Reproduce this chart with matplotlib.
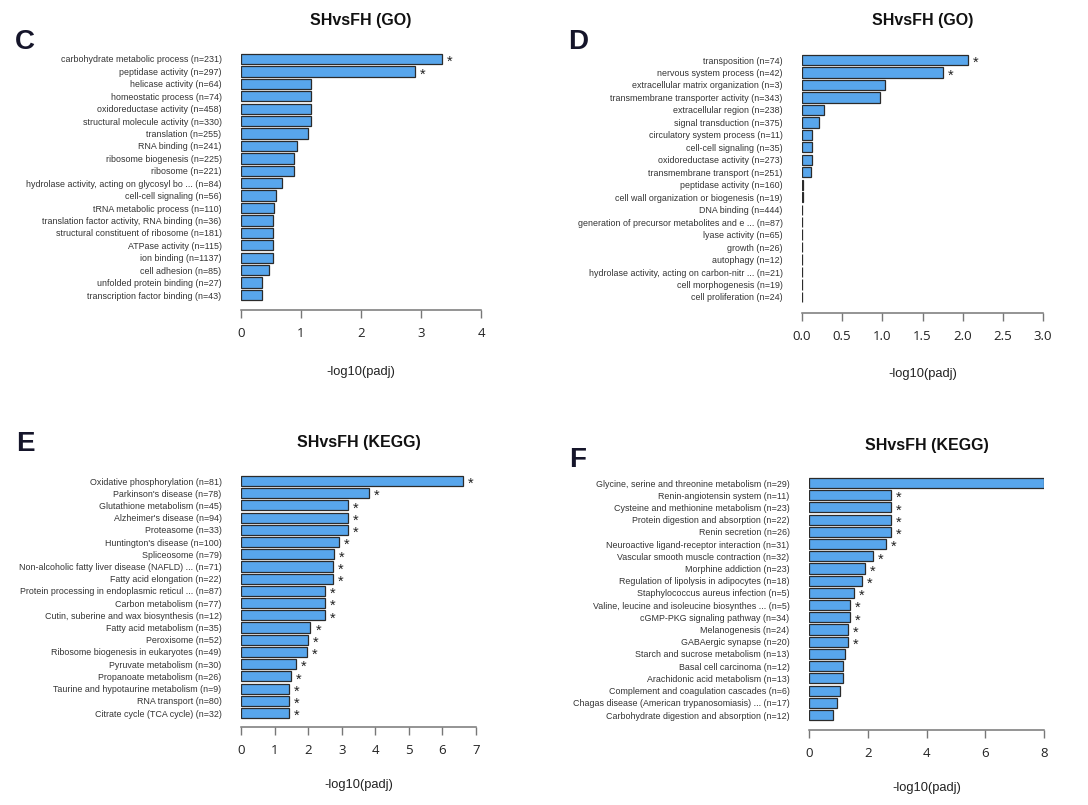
import matplotlib
matplotlib.use('Agg')
import matplotlib.pyplot as plt

plt.rcParams['font.family'] = ['Liberation Sans', 'DejaVu Sans']

# ---------------------------------------------------------------------------
# data (top to bottom)
go1_terms = ['carbohydrate metabolic process (n=231)', 'peptidase activity (n=297)',
             'helicase activity (n=64)', 'homeostatic process (n=74)',
             'oxidoreductase activity (n=458)', 'structural molecule activity (n=330)',
             'translation (n=255)', 'RNA binding (n=241)', 'ribosome biogenesis (n=225)',
             'ribosome (n=221)', 'hydrolase activity, acting on glycosyl bo ... (n=84)',
             'cell-cell signaling (n=56)', 'tRNA metabolic process (n=110)',
             'translation factor activity, RNA binding (n=36)',
             'structural constituent of ribosome (n=181)', 'ATPase activity (n=115)',
             'ion binding (n=1137)', 'cell adhesion (n=85)',
             'unfolded protein binding (n=27)', 'transcription factor binding (n=43)']
go1_vals = [3.35, 2.9, 1.16, 1.16, 1.16, 1.16, 1.12, 0.94, 0.89, 0.88,
            0.69, 0.58, 0.55, 0.54, 0.54, 0.54, 0.53, 0.47, 0.35, 0.35]
go1_sig = [True, True] + [False] * 18

go2_terms = ['transposition (n=74)', 'nervous system process (n=42)',
             'extracellular matrix organization (n=3)',
             'transmembrane transporter activity (n=343)', 'extracellular region (n=238)',
             'signal transduction (n=375)', 'circulatory system process (n=11)',
             'cell-cell signaling (n=35)', 'oxidoreductase activity (n=273)',
             'transmembrane transport (n=251)', 'peptidase activity (n=160)',
             'cell wall organization or biogenesis (n=19)', 'DNA binding (n=444)',
             'generation of precursor metabolites and e ... (n=87)',
             'lyase activity (n=65)', 'growth (n=26)', 'autophagy (n=12)',
             'hydrolase activity, acting on carbon-nitr ... (n=21)',
             'cell morphogenesis (n=19)', 'cell proliferation (n=24)']
go2_vals = [2.07, 1.76, 1.03, 0.97, 0.27, 0.21, 0.13, 0.13, 0.13, 0.11,
            0.012, 0.012, 0.004, 0.004, 0.004, 0.004, 0.004, 0.004, 0.004, 0.004]
go2_sig = [True, True] + [False] * 18

kegg1_terms = ['Oxidative phosphorylation (n=81)', "Parkinson's disease (n=78)",
               'Glutathione metabolism (n=45)', "Alzheimer's disease (n=94)",
               'Proteasome (n=33)', "Huntington's disease (n=100)", 'Spliceosome (n=79)',
               'Non-alcoholic fatty liver disease (NAFLD) ... (n=71)',
               'Fatty acid elongation (n=22)',
               'Protein processing in endoplasmic reticul ... (n=87)',
               'Carbon metabolism (n=77)', 'Cutin, suberine and wax biosynthesis (n=12)',
               'Fatty acid metabolism (n=35)', 'Peroxisome (n=52)',
               'Ribosome biogenesis in eukaryotes (n=49)', 'Pyruvate metabolism (n=30)',
               'Propanoate metabolism (n=26)', 'Taurine and hypotaurine metabolism (n=9)',
               'RNA transport (n=80)', 'Citrate cycle (TCA cycle) (n=32)']
kegg1_vals = [6.62, 3.82, 3.18, 3.18, 3.18, 2.93, 2.76, 2.73, 2.73, 2.5,
              2.5, 2.5, 2.07, 2.01, 1.96, 1.63, 1.48, 1.43, 1.43, 1.43]
kegg1_sig = [True] * 20

kegg2_terms = ['Glycine, serine and threonine metabolism (n=29)',
               'Renin-angiotensin system (n=11)', 'Cysteine and methionine metabolism (n=23)',
               'Protein digestion and absorption (n=22)', 'Renin secretion (n=26)',
               'Neuroactive ligand-receptor interaction (n=31)',
               'Vascular smooth muscle contraction (n=32)', 'Morphine addiction (n=23)',
               'Regulation of lipolysis in adipocytes (n=18)',
               'Staphylococcus aureus infection (n=5)',
               'Valine, leucine and isoleucine biosynthes ... (n=5)',
               'cGMP-PKG signaling pathway (n=34)', 'Melanogenesis (n=24)',
               'GABAergic synapse (n=20)', 'Starch and sucrose metabolism (n=13)',
               'Basal cell carcinoma (n=12)', 'Arachidonic acid metabolism (n=13)',
               'Complement and coagulation cascades (n=6)',
               'Chagas disease (American trypanosomiasis) ... (n=17)',
               'Carbohydrate digestion and absorption (n=12)']
kegg2_vals = [8.0, 2.78, 2.78, 2.78, 2.78, 2.61, 2.18, 1.89, 1.81, 1.53,
              1.39, 1.39, 1.32, 1.32, 1.24, 1.16, 1.16, 1.06, 0.97, 0.81]
kegg2_sig = [False] + [True] * 13 + [False] * 6

W, H = 1088, 805
BAR = '#58a6ec'
fig = plt.figure(figsize=(W / 100, H / 100), dpi=100)


def panel(letter, letter_xy, title, title_y, terms, vals, sig, xmax, ticks, ticklabels,
          x0, x1, y_first, y_last, axis_y, xlab_y):
    n = len(terms)
    step = (y_last - y_first) / (n - 1)
    top = y_first - 0.6 * step
    ax = fig.add_axes([x0 / W, 1 - axis_y / H, (x1 - x0) / W, (axis_y - top) / H])
    ypos = list(range(n))
    ax.barh(ypos, vals, height=0.83, color=BAR, edgecolor='#2b2b2b', linewidth=0.9)
    for y, v, s in zip(ypos, vals, sig):
        if s:
            ax.annotate('*', (v, y), xytext=(5.5, -2.2), textcoords='offset points',
                        ha='center', va='center', fontsize=10.5, color='#222222')
    ax.set_xlim(0, xmax)
    ax.set_ylim((axis_y - y_first) / step, -0.6)
    ax.set_yticks(ypos, terms, fontsize=6.4, color='#333333')
    ax.tick_params(axis='y', length=0, pad=14)
    ax.set_xticks(ticks, ticklabels, fontfamily='Open Sans', fontsize=9.5, color='#222222')
    ax.tick_params(axis='x', length=6, width=1, color='#777777', pad=6)
    for s in ['top', 'right', 'left']:
        ax.spines[s].set_visible(False)
    ax.spines['bottom'].set_bounds(0, xmax)
    ax.spines['bottom'].set_color('#777777')
    ax.spines['bottom'].set_linewidth(1.1)
    ax.patch.set_alpha(0)
    xc = (x0 + x1) / 2
    fig.text(xc / W, 1 - title_y / H, title, ha='center', va='center',
             fontsize=11.5, fontweight='bold', color='#111111')
    fig.text(xc / W, 1 - xlab_y / H, '-log10(padj)', ha='center', va='center',
             fontsize=9.3, color='#222222')
    fig.text(letter_xy[0] / W, 1 - letter_xy[1] / H, letter, ha='center', va='center',
             fontsize=20, fontweight='bold', color='#15152a')


panel('C', (25, 42), 'SHvsFH (GO)', 20, go1_terms, go1_vals, go1_sig, 4,
      [0, 1, 2, 3, 4], ['0', '1', '2', '3', '4'],
      241, 481, 59, 295, 310, 372)
panel('D', (578, 42), 'SHvsFH (GO)', 20, go2_terms, go2_vals, go2_sig, 3.0,
      [0, 0.5, 1, 1.5, 2, 2.5, 3], ['0.0', '0.5', '1.0', '1.5', '2.0', '2.5', '3.0'],
      802, 1043, 60, 297, 313, 374)
panel('E', (25, 444), 'SHvsFH (KEGG)', 442, kegg1_terms, kegg1_vals, kegg1_sig, 7,
      list(range(8)), [str(i) for i in range(8)],
      241, 476, 481, 713, 727, 785)
panel('F', (578, 460), 'SHvsFH (KEGG)', 445, kegg2_terms, kegg2_vals, kegg2_sig, 8,
      [0, 2, 4, 6, 8], ['0', '2', '4', '6', '8'],
      809, 1044, 483, 715, 730, 788)

fig.savefig('out.png', dpi=100)
